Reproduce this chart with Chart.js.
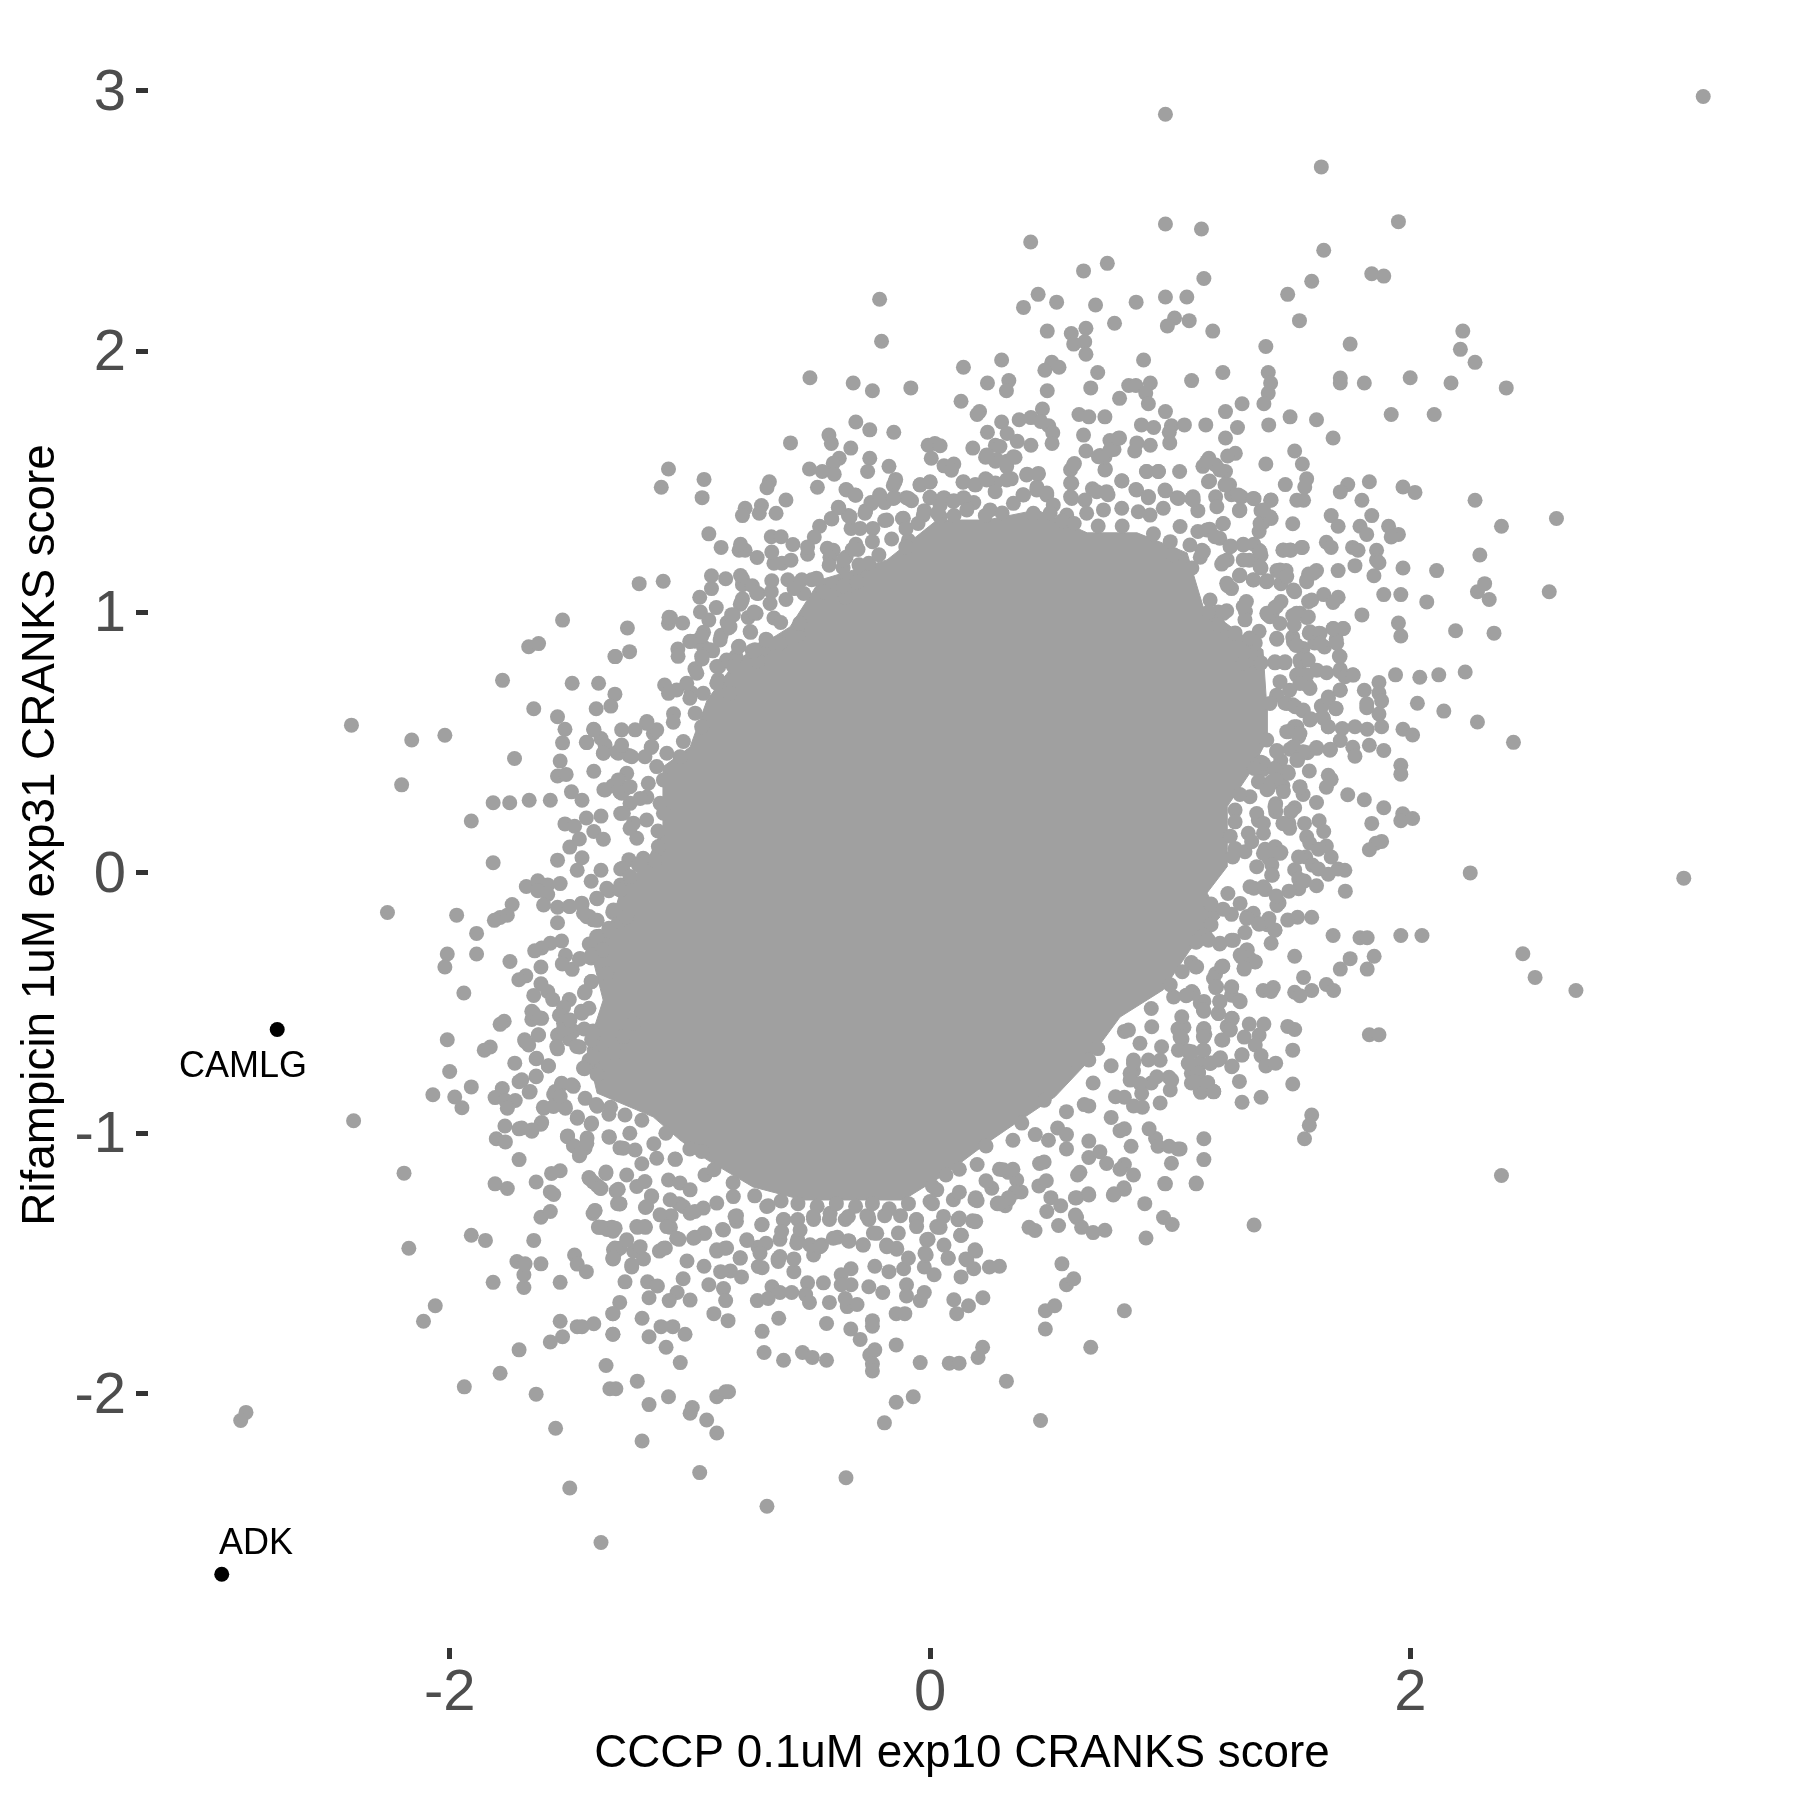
<!DOCTYPE html>
<html><head><meta charset="utf-8">
<style>html,body{margin:0;padding:0;background:#fff}canvas{display:block}</style>
<script src="https://cdn.jsdelivr.net/npm/chart.js@4/dist/chart.umd.min.js"></script>
</head><body><canvas id="c" width="1800" height="1800"></canvas>
<script>
const xTicks=[-2,0,2];
const yTicks=[-2,-1,0,1,2,3];
const xTitle="CCCP 0.1uM exp10 CRANKS score";
const yTitle="Rifampicin 1uM exp31 CRANKS score";
const labelledNames=["CAMLG","ADK"];
const labelledPoints=[[-2.718,-0.602],[-2.949,-2.692]];
const labelAnchors=[[-2.860,-0.747],[-2.806,-2.577]];
// outline of the region where the dots merge into solid grey
const denseCoreOutline=[[-1.112,0.175],[-1.112,0.406],[-0.999,0.482],[-0.928,0.663],[-0.803,0.816],[-0.583,0.943],[-0.458,1.123],[-0.179,1.2],[0.029,1.353],[0.237,1.353],[0.445,1.392],[0.654,1.304],[0.862,1.304],[1.07,1.227],[1.137,1.02],[1.386,0.855],[1.403,0.624],[1.403,0.509],[1.332,0.383],[1.236,0.252],[1.236,0.022],[1.153,-0.078],[1.207,-0.17],[1.082,-0.297],[0.97,-0.45],[0.791,-0.554],[0.642,-0.741],[0.52,-0.86],[0.375,-0.95],[0.237,-1.037],[0.071,-1.152],[-0.112,-1.256],[-0.321,-1.256],[-0.529,-1.256],[-0.737,-1.206],[-0.928,-1.102],[-1.041,-1.026],[-1.153,-0.937],[-1.386,-0.846],[-1.428,-0.68],[-1.361,-0.489],[-1.403,-0.335],[-1.332,-0.208],[-1.291,-0.078],[-1.178,0.049]];
const topPoints=[[0.98,2.91],[0.98,2.489],[1.13,2.47],[0.419,2.42],[0.738,2.338],[0.639,2.309],[1.14,2.28],[-0.21,2.2],[0.45,2.219],[0.389,2.169],[0.527,2.189],[0.689,2.178],[0.858,2.189],[0.98,2.209],[1.069,2.209],[0.768,2.108],[1.018,2.128],[0.988,2.098],[1.079,2.118],[1.177,2.078],[0.488,2.078],[0.588,2.069],[0.649,2.089],[0.598,2.028],[0.644,2.037],[0.649,1.989],[-0.202,2.039],[0.298,1.967],[0.139,1.939],[0.889,1.967],[0.507,1.958],[0.478,1.928],[0.537,1.939],[0.698,1.919],[-0.5,1.899],[-0.32,1.879],[-0.24,1.849],[-0.08,1.86],[0.239,1.879],[0.328,1.888],[0.318,1.849],[0.488,1.849],[0.669,1.86],[0.827,1.869],[0.857,1.869],[0.917,1.879],[1.089,1.888],[0.898,1.84],[0.789,1.82],[0.909,1.799],[0.129,1.809],[0.206,1.769],[0.196,1.758],[0.468,1.779],[0.98,1.769],[0.62,1.758],[0.661,1.749],[0.728,1.749],[0.298,1.729],[0.371,1.738],[0.42,1.746],[0.461,1.731],[0.494,1.715],[0.511,1.688],[0.508,1.647],[-0.309,1.729],[-0.251,1.699],[-0.151,1.69],[-0.581,1.649],[-0.421,1.679],[-0.411,1.647],[-0.33,1.629],[0.88,1.718],[0.931,1.708],[1.005,1.715],[0.996,1.69],[0.998,1.649],[1.059,1.718],[1.148,1.718],[0.239,1.69],[0.639,1.679],[0.321,1.685],[0.363,1.655],[0.42,1.64],[-0.008,1.64],[0.02,1.647],[0.042,1.638],[0.178,1.629],[0.272,1.64],[0.749,1.658],[0.789,1.668],[0.766,1.624],[0.861,1.649],[0.852,1.618],[0.917,1.64],[0.649,1.618],[0.708,1.601],[0.005,1.59],[-0.251,1.59],[-0.378,1.59],[-0.403,1.571],[-0.502,1.549],[-0.449,1.539],[-0.399,1.529],[-0.171,1.559],[-0.26,1.539],[0.058,1.561],[0.099,1.568],[0.089,1.544],[0.231,1.594],[0.272,1.579],[0.321,1.579],[0.354,1.594],[0.601,1.57],[0.585,1.546],[0.73,1.549],[1.039,1.539],[1.161,1.59],[1.136,1.559],[0.901,1.539],[0.95,1.539],[-1.089,1.549],[-0.941,1.509],[-1.119,1.479],[-0.949,1.439],[-0.669,1.5],[-0.679,1.477],[-0.143,1.509],[-0.153,1.486],[0,1.498],[-0.041,1.488],[0.137,1.498],[0.19,1.488],[0.231,1.511],[0.272,1.495],[0.338,1.511],[0.404,1.529],[0.45,1.529],[0.585,1.495],[0.799,1.503],[-0.469,1.479],[-0.35,1.47],[-0.309,1.448],[-0.6,1.43],[-0.702,1.409],[-0.711,1.379],[-0.77,1.398],[-0.781,1.37],[-0.641,1.379],[-0.21,1.45],[-0.246,1.42],[-0.189,1.42],[-0.148,1.439],[-0.098,1.439],[-0.077,1.427],[0,1.439],[0.058,1.439],[0.042,1.409],[0.14,1.439],[0.099,1.427],[0.182,1.42],[0.445,1.48],[0.486,1.457],[0.387,1.45],[0.585,1.442],[0.676,1.473],[0.741,1.45],[0.857,1.47],[0.909,1.439],[0.98,1.465],[1.029,1.439],[1.095,1.442],[-0.38,1.4],[-0.411,1.359],[-0.34,1.37],[-0.268,1.389],[-0.921,1.3],[-0.46,1.329],[-0.482,1.288],[-0.661,1.289],[-0.62,1.289],[-0.571,1.259],[-0.87,1.248],[-0.795,1.237],[-0.77,1.237],[-0.72,1.209],[-0.65,1.187],[-0.617,1.187],[-0.579,1.199],[-0.51,1.222],[-0.428,1.245],[-0.403,1.237],[-0.309,1.26],[-0.09,1.275],[-0.189,1.351],[-0.115,1.359],[-0.024,1.389],[-0.329,1.321],[-0.238,1.321],[-0.91,1.139],[-0.851,1.128],[-0.781,1.128],[-0.781,1.105],[-0.74,1.101],[-1.211,1.109],[-1.111,1.118],[-0.35,1.21],[-0.362,1.17],[-0.296,1.181],[-0.255,1.187],[-0.959,1.057],[-0.716,1.071],[-0.781,1.051],[-0.79,1.03],[-0.661,1.078],[-0.592,1.124],[-0.534,1.124],[-0.493,1.124],[-0.666,1.033],[-0.6,1.048],[-0.526,1.071],[-0.444,1.078],[-0.89,1.017],[-1.081,0.979],[-1.089,0.957],[-1.03,0.958],[-0.826,0.99],[-0.757,0.979],[-0.724,0.995],[-0.921,0.969],[-0.65,0.977],[-1.26,0.939],[-0.839,0.939],[-0.87,0.911],[-0.747,0.922],[-0.943,0.922],[-0.979,0.888],[-0.999,0.888],[-1.05,0.858],[-1.251,0.848],[-1.31,0.829],[-0.795,0.869],[-0.683,0.896],[-0.625,0.881],[-0.943,0.866],[-0.905,0.851],[-0.949,0.82],[-0.979,0.782],[-0.847,0.813],[-0.88,0.79],[-0.74,0.851],[-0.716,0.813],[-0.551,0.911],[-0.543,0.957],[-0.353,1.055],[-0.304,1.116]];
const rightUpperPoints=[[3.219,2.978],[1.629,2.708],[1.95,2.498],[1.639,2.388],[1.839,2.298],[1.889,2.289],[1.589,2.269],[1.489,2.219],[1.538,2.118],[2.218,2.078],[2.208,2.008],[2.269,1.958],[1.398,2.019],[1.749,2.028],[1.408,1.919],[1.418,1.879],[1.408,1.84],[1.39,1.799],[1.219,1.919],[1.708,1.898],[1.708,1.879],[1.808,1.879],[1.999,1.899],[2.169,1.879],[2.399,1.86],[1.299,1.799],[1.23,1.769],[1.28,1.708],[1.41,1.718],[1.499,1.749],[1.609,1.738],[1.92,1.758],[2.099,1.758],[1.678,1.668],[1.23,1.668],[1.518,1.618],[1.55,1.568],[1.398,1.568],[1.271,1.609],[1.239,1.599],[1.189,1.564],[1.23,1.539],[1.568,1.511],[1.56,1.48],[1.479,1.489],[1.739,1.489],[1.708,1.461],[1.829,1.5],[1.969,1.48],[2.019,1.459],[2.269,1.429],[1.247,1.488],[1.164,1.503],[1.189,1.442],[1.255,1.45],[1.296,1.442],[1.349,1.435],[1.418,1.429],[1.527,1.429],[1.555,1.429],[1.798,1.429],[1.09,1.435],[1.115,1.389],[1.288,1.389],[1.378,1.389],[1.42,1.359],[1.387,1.344],[1.37,1.309],[1.67,1.37],[1.699,1.329],[1.839,1.37],[1.51,1.339],[1.219,1.339],[1.79,1.329],[1.818,1.298],[1.909,1.329],[1.95,1.298],[1.92,1.288],[2.379,1.329],[2.608,1.359],[1.115,1.309],[1.164,1.318],[1.206,1.283],[1.252,1.253],[1.304,1.26],[1.37,1.237],[1.378,1.218],[1.469,1.237],[1.502,1.237],[1.55,1.248],[1.65,1.268],[1.67,1.248],[1.759,1.248],[1.782,1.237],[1.859,1.237],[1.859,1.199],[1.869,1.189],[2.289,1.219],[1.769,1.178],[1.969,1.169],[2.109,1.159],[1.699,1.159],[1.848,1.139],[1.609,1.159],[1.576,1.146],[1.568,1.116],[1.444,1.159],[1.482,1.159],[1.461,1.109],[1.329,1.199],[1.378,1.169],[1.346,1.124],[1.4,1.116],[1.214,1.184],[1.09,1.169],[1.132,1.237],[2.309,1.109],[2.279,1.078],[2.328,1.048],[2.578,1.078],[1.889,1.067],[1.96,1.067],[2.068,1.039],[1.639,1.067],[1.699,1.057],[1.678,1.037],[1.518,1.078],[1.576,1.04],[1.239,1.101],[1.288,1.139],[1.461,1.04],[1.436,1.017],[1.406,0.99],[1.317,1.04],[1.313,1.002],[1.235,1.005],[1.197,0.987],[1.51,0.987],[1.568,0.979],[1.798,0.989],[1.95,0.958],[1.96,0.908],[2.188,0.928],[2.348,0.919],[1.678,0.937],[1.719,0.937],[1.579,0.919],[1.62,0.919],[1.691,0.896],[1.642,0.866],[1.601,0.881],[1.704,0.831],[1.444,0.896],[1.51,0.904],[1.523,0.873],[1.354,0.881],[1.37,0.926],[1.568,0.82],[1.543,0.805],[1.436,0.805],[1.477,0.805],[1.378,0.805],[1.304,0.805]];
const rightLowerPoints=[[1.938,0.759],[2.039,0.75],[2.118,0.759],[2.228,0.77],[2.029,0.65],[2.139,0.62],[2.279,0.578],[2.429,0.5],[1.869,0.73],[1.869,0.689],[1.88,0.659],[1.869,0.609],[1.88,0.56],[1.808,0.7],[1.818,0.648],[1.818,0.633],[1.708,0.7],[1.76,0.759],[1.708,0.78],[1.658,0.674],[1.629,0.639],[1.69,0.629],[1.969,0.55],[2.009,0.528],[1.769,0.56],[1.82,0.55],[1.716,0.553],[1.708,0.507],[1.658,0.56],[1.634,0.598],[1.584,0.591],[1.551,0.621],[1.51,0.644],[1.477,0.651],[1.485,0.541],[1.535,0.522],[1.527,0.56],[1.609,0.48],[1.667,0.474],[1.76,0.481],[1.769,0.447],[1.829,0.489],[1.889,0.469],[1.551,0.462],[1.53,0.431],[1.499,0.474],[1.444,0.469],[1.96,0.412],[1.96,0.378],[1.579,0.39],[1.658,0.374],[1.67,0.358],[1.65,0.328],[1.54,0.328],[1.489,0.386],[1.436,0.401],[1.378,0.424],[1.387,0.396],[1.42,0.348],[1.469,0.333],[1.37,0.348],[1.403,0.318],[1.739,0.299],[1.808,0.28],[1.889,0.249],[1.609,0.269],[1.518,0.249],[1.502,0.234],[1.439,0.264],[1.439,0.234],[1.968,0.226],[1.96,0.199],[2.009,0.208],[1.839,0.189],[1.62,0.199],[1.639,0.158],[1.559,0.189],[1.469,0.189],[1.494,0.189],[1.88,0.12],[1.856,0.113],[1.829,0.088],[1.568,0.138],[1.581,0.113],[1.65,0.102],[1.617,0.09],[1.439,0.097],[1.461,0.078],[1.395,0.09],[1.411,0.055],[1.67,0.06],[1.564,0.06],[1.592,0.029],[1.617,0.014],[1.658,-0.006],[1.699,0.014],[1.727,0.009],[1.518,0.011],[1.535,-0.024],[1.559,-0.032],[1.425,-0.01],[1.609,-0.05],[1.729,-0.071],[2.249,-0.001],[3.138,-0.021],[1.535,-0.062],[1.494,-0.071],[1.395,-0.065],[1.453,-0.116],[1.444,-0.126],[1.589,-0.171],[1.53,-0.171],[1.489,-0.182],[1.411,-0.176],[1.436,-0.221],[1.37,-0.198],[1.321,-0.168],[1.255,-0.16],[1.678,-0.241],[1.79,-0.25],[1.82,-0.25],[1.96,-0.241],[2.048,-0.241],[1.42,-0.271],[1.255,-0.259],[1.206,-0.274],[1.148,-0.244],[1.107,-0.267],[1.518,-0.321],[2.468,-0.311],[2.519,-0.402],[2.689,-0.452],[1.849,-0.321],[1.749,-0.33],[1.708,-0.37],[1.82,-0.37],[1.321,-0.297],[1.296,-0.323],[1.354,-0.343],[1.308,-0.37],[1.219,-0.358],[1.189,-0.388],[1.107,-0.362],[1.555,-0.402],[1.65,-0.429],[1.68,-0.452],[1.589,-0.452],[1.518,-0.459],[1.54,-0.472],[1.429,-0.441],[1.387,-0.452],[1.42,-0.456],[1.255,-0.441],[1.288,-0.491],[1.206,-0.494],[1.189,-0.441],[1.14,-0.494],[1.14,-0.532],[1.201,-0.54],[1.066,-0.472],[1.09,-0.456],[1.258,-0.56],[1.329,-0.581],[1.39,-0.581],[1.489,-0.59],[1.518,-0.602],[1.829,-0.622],[1.869,-0.622],[1.14,-0.598],[1.14,-0.626],[1.25,-0.602],[1.308,-0.631],[1.37,-0.623],[1.219,-0.642],[1.057,-0.593],[1.049,-0.638],[1.354,-0.661],[1.51,-0.681],[1.14,-0.681],[1.074,-0.684],[1.299,-0.699],[1.378,-0.702],[1.209,-0.71],[1.169,-0.73],[1.258,-0.742],[1.077,-0.73],[1.398,-0.742],[1.439,-0.731],[1.118,-0.767],[1.099,-0.798],[1.156,-0.805],[1.128,-0.843],[1.181,-0.84],[1.288,-0.801],[1.51,-0.811],[1.378,-0.862],[1.299,-0.881],[1.589,-0.93],[1.579,-0.969],[1.559,-1.021],[1.14,-1.021],[1.14,-1.101],[1.108,-1.191],[1.041,-1.06],[2.379,-1.162],[1.349,-1.352]];
const bottomPoints=[[0.46,-2.102],[0.809,-1.681],[0.669,-1.821],[0.318,-1.951],[-0.35,-2.322],[-0.679,-2.431],[-0.959,-2.302],[-1.199,-2.181],[-0.888,-2.15],[-0.93,-2.1],[-0.99,-2.052],[-0.999,-2.074],[-1.17,-2.041],[-1.089,-2.011],[-0.888,-2.011],[-0.851,-1.992],[-0.839,-1.992],[-1.219,-1.951],[-1.333,-1.98],[-1.308,-1.98],[-1.349,-1.891],[-0.19,-2.111],[-0.141,-2.032],[-0.07,-2.011],[-1.04,-1.88],[-1.099,-1.821],[-1.17,-1.781],[-1.32,-1.771],[-1.12,-1.742],[-1.071,-1.742],[-1.02,-1.771],[-1.199,-1.71],[-1.32,-1.692],[-1.292,-1.649],[-0.9,-1.692],[-0.841,-1.719],[-0.63,-1.71],[-0.699,-1.76],[-0.691,-1.841],[-0.61,-1.871],[-0.531,-1.841],[-0.49,-1.86],[-0.431,-1.871],[-0.431,-1.73],[-0.33,-1.751],[-0.291,-1.791],[-0.24,-1.719],[-0.24,-1.74],[-0.23,-1.831],[-0.251,-1.851],[-0.24,-1.885],[-0.24,-1.912],[-0.141,-1.812],[-0.041,-1.88],[0.08,-1.882],[0.121,-1.882],[0.219,-1.821],[0.2,-1.86],[-0.141,-1.692],[-0.105,-1.692],[-0.041,-1.642],[-0.024,-1.611],[0.099,-1.639],[0.111,-1.692],[0.16,-1.662],[0.22,-1.631],[0.48,-1.681],[0.519,-1.662],[0.48,-1.751],[0.549,-1.501],[0.568,-1.581],[0.598,-1.558],[0.247,-1.513],[0.289,-1.51],[0.182,-1.52],[0.129,-1.551],[0.075,-1.479],[0.149,-1.482],[0.19,-1.452],[-0.098,-1.581],[-0.098,-1.624],[-0.197,-1.611],[-0.255,-1.589],[-0.329,-1.52],[-0.37,-1.543],[-0.23,-1.51],[-0.171,-1.531],[-0.11,-1.52],[-0.09,-1.479],[0.017,-1.543],[-0.024,-1.513],[-0.016,-1.467],[-0.51,-1.574],[-0.444,-1.574],[-0.329,-1.581],[-0.37,-1.581],[-0.658,-1.589],[-0.625,-1.611],[-0.576,-1.611],[-0.518,-1.619],[-0.719,-1.642],[-0.674,-1.634],[-0.502,-1.649],[-0.419,-1.649],[-0.345,-1.665],[-0.304,-1.657],[-0.353,-1.634],[-0.633,-1.482],[-0.567,-1.531],[-0.699,-1.516],[-0.785,-1.551],[-0.831,-1.528],[-0.872,-1.531],[-0.79,-1.478],[-0.716,-1.437],[-1.012,-1.49],[-0.941,-1.51],[-0.921,-1.581],[-0.86,-1.596],[-0.851,-1.642],[-0.999,-1.64],[-1.053,-1.611],[-1.086,-1.642],[-1.028,-1.558],[-1.17,-1.631],[-1.176,-1.57],[-1.135,-1.586],[-1.27,-1.57],[-1.32,-1.482],[-1.234,-1.452],[-1.193,-1.482],[-1.242,-1.513],[-1.127,-1.452],[-1.102,-1.44],[-1.218,-1.361],[-1.185,-1.361],[-1.325,-1.361],[-1.366,-1.361],[-1.308,-1.452],[-0.979,-1.399],[-0.938,-1.384],[-0.888,-1.452],[-0.847,-1.44],[-0.864,-1.369],[-0.806,-1.338],[-0.699,-1.35],[-0.762,-1.411],[-1.081,-1.361],[-1.045,-1.407],[-0.683,-1.422],[-0.625,-1.407],[-0.609,-1.331],[-0.551,-1.407],[-0.567,-1.482],[-0.485,-1.467],[-0.452,-1.429],[-0.386,-1.399],[-0.337,-1.414],[-0.279,-1.429],[-0.222,-1.384],[-0.181,-1.429],[-0.139,-1.445],[-0.008,-1.407],[0.058,-1.429],[0.042,-1.361],[0.116,-1.331],[0.127,-1.391],[0.19,-1.338],[0.19,-1.247],[0.28,-1.27],[0.313,-1.278],[0.379,-1.225],[0.33,-1.247],[0.412,-1.361],[0.437,-1.373],[0.486,-1.3],[0.535,-1.354],[0.61,-1.323],[0.631,-1.361],[0.679,-1.381],[0.728,-1.372],[0.61,-1.247],[0.659,-1.232],[0.766,-1.232],[0.807,-1.209],[0.894,-1.27],[0.972,-1.323],[1.008,-1.35],[0.899,-1.402],[0.98,-1.194],[1.108,-1.194],[0.503,-1.247],[0.544,-1.278],[0.453,-1.202],[-1.292,-1.27],[-1.16,-1.24],[-1.185,-1.285],[-1.045,-1.27],[-1.078,-1.316],[-0.979,-1.3],[-0.806,-1.316],[-0.674,-1.278],[-0.263,-1.316],[-0.057,-1.331],[0.033,-1.361],[-0.551,-1.331],[-0.485,-1.331],[-0.419,-1.331],[-0.353,-1.331],[-0.255,-1.331],[-0.189,-1.316],[-0.123,-1.316]];
const lowerLeftPoints=[[-2.848,-2.071],[-2.87,-2.102],[-1.37,-2.57],[-1.5,-2.361],[-1.559,-2.132],[-1.939,-1.973],[-1.79,-1.921],[-1.64,-2.001],[-1.711,-1.831],[-2.06,-1.662],[-2.109,-1.721],[-1.54,-1.721],[-1.581,-1.801],[-1.53,-1.781],[-1.469,-1.742],[-1.449,-1.742],[-1.4,-1.731],[-1.321,-1.771],[-1.321,-1.692],[-1.819,-1.572],[-1.691,-1.592],[-1.691,-1.543],[-1.54,-1.572],[-1.72,-1.492],[-1.686,-1.501],[-1.62,-1.501],[-1.48,-1.467],[-1.469,-1.502],[-1.431,-1.531],[-1.321,-1.479],[-1.312,-1.44],[-2.17,-1.441],[-1.91,-1.391],[-1.851,-1.411],[-1.65,-1.411],[-1.378,-1.361],[-1.345,-1.369],[-1.32,-1.376],[-1.62,-1.322],[-1.581,-1.3],[-1.395,-1.297],[-1.403,-1.308],[-1.581,-1.225],[-1.567,-1.235],[-1.76,-1.212],[-1.811,-1.194],[-1.64,-1.187],[-1.37,-1.212],[-1.403,-1.187],[-1.301,-1.27],[-1.307,-1.221]];
const leftPoints=[[-2.409,0.566],[-2.158,0.509],[-2.02,0.527],[-2.2,0.337],[-2.259,-0.153],[-2.4,-0.952],[-2.19,-1.153],[-1.53,0.969],[-1.671,0.867],[-1.63,0.879],[-1.312,0.829],[-1.78,0.738],[-1.49,0.727],[-1.38,0.727],[-1.312,0.685],[-1.65,0.629],[-1.551,0.598],[-1.39,0.629],[-1.329,0.639],[-1.52,0.55],[-1.401,0.55],[-1.37,0.515],[-1.431,0.5],[-1.53,0.498],[-1.36,0.459],[-1.304,0.462],[-1.73,0.438],[-1.54,0.428],[-1.4,0.389],[-1.551,0.371],[-1.515,0.377],[-1.493,0.31],[-1.449,0.278],[-1.819,0.268],[-1.75,0.268],[-1.669,0.278],[-1.581,0.278],[-1.358,0.318],[-1.321,0.333],[-1.291,0.31],[-1.91,0.198],[-1.431,0.21],[-1.37,0.217],[-1.288,0.227],[-1.52,0.187],[-1.48,0.178],[-1.4,0.158],[-1.36,0.128],[-1.46,0.129],[-1.5,0.098],[-1.551,0.048],[-1.449,0.057],[-1.819,0.038],[-1.469,0.009],[-1.37,0.009],[-1.411,-0.033],[-1.288,0.014],[-1.54,-0.042],[-1.681,-0.053],[-1.633,-0.031],[-1.592,-0.047],[-1.633,-0.069],[-1.592,-0.084],[-1.609,-0.124],[-1.74,-0.122],[-1.76,-0.163],[-1.79,-0.172],[-1.814,-0.183],[-1.971,-0.163],[-1.551,-0.133],[-1.502,-0.13],[-1.449,-0.122],[-1.419,-0.168],[-1.386,-0.183],[-1.551,-0.192],[-1.386,-0.1],[-1.337,-0.069],[-1.288,-0.047],[-1.321,-0.153],[-1.296,-0.191],[-1.337,-0.213],[-1.378,-0.244],[-1.888,-0.233],[-1.888,-0.312],[-2.01,-0.312],[-2.02,-0.362],[-1.534,-0.262],[-1.581,-0.271],[-1.617,-0.289],[-1.646,-0.3],[-1.749,-0.341],[-1.62,-0.362],[-1.518,-0.317],[-1.531,-0.35],[-1.49,-0.371],[-1.46,-0.332],[-1.411,-0.327],[-1.419,-0.274],[-1.378,-0.289],[-1.683,-0.396],[-1.712,-0.411],[-1.941,-0.462],[-1.62,-0.426],[-1.65,-0.471],[-1.592,-0.456],[-1.571,-0.487],[-1.411,-0.418],[-1.439,-0.462],[-1.502,-0.487],[-1.526,-0.517],[-1.543,-0.547],[-1.452,-0.532],[-1.658,-0.532],[-1.617,-0.559],[-1.658,-0.563],[-1.773,-0.57],[-1.79,-0.582],[-2.01,-0.641],[-1.63,-0.623],[-1.688,-0.641],[-1.671,-0.661],[-1.526,-0.578],[-1.485,-0.608],[-1.551,-0.623],[-1.502,-0.638],[-1.403,-0.608],[-1.831,-0.669],[-1.856,-0.681],[-1.551,-0.676],[-1.46,-0.669],[-1.64,-0.714],[-1.589,-0.742],[-1.729,-0.731],[-2,-0.763],[-1.403,-0.714],[-1.439,-0.752],[-1.386,-0.775],[-1.64,-0.783],[-1.711,-0.802],[-1.669,-0.842],[-1.91,-0.822],[-1.979,-0.861],[-2.07,-0.852],[-1.949,-0.902],[-1.781,-0.828],[-1.811,-0.863],[-1.768,-0.874],[-1.727,-0.874],[-1.76,-0.904],[-1.534,-0.813],[-1.485,-0.82],[-1.567,-0.851],[-1.518,-0.904],[-1.608,-0.904],[-1.559,-0.889],[-1.436,-0.866],[-1.386,-0.896],[-1.337,-0.927],[-1.77,-0.972],[-1.711,-0.983],[-1.658,-0.992],[-1.62,-0.965],[-1.469,-0.942],[-1.411,-0.965],[-1.51,-1.013],[-1.428,-1.018],[-1.485,-1.048],[-1.436,-1.056],[-1.46,-1.086],[-1.337,-1.013],[-1.291,-1.056],[-1.806,-1.021],[-1.768,-1.033],[-1.711,-1.101],[-1.54,-1.144],[-1.576,-1.154],[-1.419,-1.173],[-1.35,-1.154],[-1.386,-1.2]];
// dots in the crowded band around the solid core
const bandPoints=[[-0.789,1.26],[-0.659,1.23],[-0.51,1.25],[-0.417,1.21],[-0.324,1.24],[-0.213,1.22],[-0.101,1.25],[-0.91,1.09],[-0.789,1.14],[-0.659,1.12],[-0.566,1.09],[-0.473,1.13],[-0.362,1.1],[1.014,1.22],[1.125,1.21],[1.237,1.2],[1.348,1.26],[1.255,1.09],[1.404,1.12],[-1.087,0.98],[-0.956,1],[-0.845,0.96],[-0.733,1],[-0.622,0.96],[1.2,1],[1.311,0.97],[1.423,0.99],[1.516,0.95],[-1.049,0.83],[-0.808,0.83],[-0.696,0.86],[1.553,0.86],[-1.105,0.72],[-0.994,0.69],[-0.882,0.74],[1.497,0.7],[1.571,0.72],[-1.179,0.58],[-1.068,0.61],[1.516,0.56],[-1.254,0.45],[-1.161,0.48],[1.46,0.43],[1.571,0.46],[-1.272,0.32],[-1.179,0.29],[1.46,0.34],[1.553,0.3],[-1.235,0.19],[-1.133,0.16],[1.367,0.2],[1.497,0.17],[-1.254,0.05],[1.311,0.08],[1.423,0.03],[1.534,0.06],[1.348,-0.06],[1.441,-0.09],[1.311,-0.23],[1.404,-0.2],[1.218,-0.36],[1.33,-0.33],[1.125,-0.5],[1.255,-0.47],[1.032,-0.6],[1.144,-0.62],[1.237,-0.59],[0.847,-0.76],[0.958,-0.72],[1.088,-0.77],[0.642,-0.89],[0.772,-0.86],[0.884,-0.9],[0.531,-0.98],[0.661,-1.03],[0.791,-0.99],[0.939,-1.02],[0.475,-1.11],[0.624,-1.15],[0.809,-1.12],[0.196,-1.12],[0.326,-1.15],[0.066,-1.16]];
const leftBandPoints=[[-0.951,0.906],[-1,0.887],[-0.916,0.855],[-0.951,0.829],[-0.874,0.893],[-0.833,0.944],[-0.819,0.989],[-0.784,1.04],[-0.722,1.072],[-0.749,0.925],[-0.798,0.867],[-0.68,0.893],[-0.631,0.88],[-0.729,0.855],[-0.847,0.816],[-0.888,0.791],[-0.971,0.765],[-0.888,0.727],[-0.819,0.791],[-0.833,0.688],[-0.944,0.688],[-1,0.669],[-0.978,0.612],[-1.013,0.727],[-1.055,0.701],[-1.089,0.688],[-1.069,0.577],[-0.951,0.56],[-1.152,0.535],[-1.138,0.548],[-1.18,0.573],[-1.228,0.548],[-1.284,0.548],[-1.399,0.548],[-1.429,0.499],[-1.353,0.49],[-1.36,0.458],[-1.298,0.458],[-1.242,0.445],[-1.187,0.445],[-1.284,0.49],[-1.159,0.484],[-1.138,0.407],[-1.041,0.445],[-1.027,0.503],[-1.096,0.458],[-1.11,0.356],[-1.173,0.343],[-1.207,0.285],[-1.249,0.266],[-1.277,0.228],[-1.263,0.381],[-1.298,0.356],[-1.353,0.317],[-1.284,0.305],[-1.249,0.33],[-1.124,0.266],[-1.18,0.202],[-1.11,0.228],[-1.249,0.17],[-1.221,0.132],[-1.131,0.1],[-1.194,0.055],[-1.214,0.03],[-1.145,0.049],[-1.28,0.017],[-1.249,-0.015],[-1.346,-0.06],[-1.388,-0.098],[-1.291,-0.066],[-1.318,-0.143],[-1.263,-0.169],[-1.402,-0.181],[-1.429,-0.169],[-1.388,-0.245],[-1.332,-0.226],[-1.409,-0.316],[-1.457,-0.329],[-1.36,-0.297],[-1.409,-0.418],[-1.436,-0.456],[-1.346,-0.386],[-1.499,-0.13],[-1.45,-0.117],[-1.443,-0.156],[-1.44,-0.6],[-1.42,-0.52],[-1.42,-0.72]];
const lowerBandPoints=[[-1.651,-0.539],[-1.624,-0.558],[-1.631,-0.622],[-1.686,-0.648],[-1.554,-0.667],[-1.471,-0.667],[-1.409,-0.641],[-1.527,-0.603],[-1.499,-0.565],[-1.45,-0.539],[-1.402,-0.616],[-1.318,-0.693],[-1.277,-0.629],[-1.235,-0.578],[-1.638,-0.712],[-1.589,-0.741],[-1.64,-0.78],[-1.443,-0.75],[-1.402,-0.705],[-1.534,-0.808],[-1.492,-0.814],[-1.561,-0.84],[-1.665,-0.84],[-1.7,-0.795],[-1.61,-0.9],[-1.568,-0.897],[-1.52,-0.897],[-1.54,-0.859],[-1.617,-0.959],[-1.658,-0.987],[-1.7,-0.98],[-1.468,-0.938],[-1.409,-0.961],[-1.509,-1.01],[-1.478,-1.051],[-1.457,-1.079],[-1.429,-1.038],[-1.335,-1.015],[-1.277,-1.057],[-1.228,-1.064],[-1.138,-1.096],[-1.062,-1.099],[-1.2,-1.117],[-0.951,-1.07],[-0.937,-1.16],[-1.263,-1.16],[-1.221,-1.204],[-1.187,-1.185],[-1.349,-1.149],[-1.42,-1.17],[-1.374,-1.211],[-1.298,-1.215],[-1.291,-1.271],[-1.159,-1.243],[-1.089,-1.179],[-1.041,-1.191],[-0.999,-1.217],[-1.18,-1.281],[-1.124,-1.313],[-1.096,-1.358],[-1.055,-1.403],[-1.082,-1.255],[-1.027,-1.281],[-0.999,-1.307],[-0.944,-1.287],[-0.888,-1.268],[-0.819,-1.243],[-0.812,-1.319],[-0.86,-1.371],[-0.701,-1.351],[-0.68,-1.281],[-0.941,-1.383],[-0.985,-1.403],[-0.888,-1.447],[-0.854,-1.441],[-0.763,-1.409],[-0.611,-1.332],[-0.618,-1.377],[-0.541,-1.371],[-0.486,-1.319],[-0.416,-1.307],[-0.34,-1.319],[-0.555,-1.422],[-0.5,-1.428],[-0.458,-1.435],[-0.403,-1.403],[-0.34,-1.412],[-0.257,-1.319],[-0.236,-1.383],[-0.278,-1.428],[-0.18,-1.435],[-0.139,-1.441],[-0.132,-1.383],[-0.056,-1.332],[-0.056,-1.358],[0.028,-1.358],[0.056,-1.319],[0.097,-1.255],[0,-1.262],[0.028,-1.217],[0.187,-1.255],[0.187,-1.339],[0.118,-1.332],[0.128,-1.391],[-0.014,-1.409],[-0.021,-1.46],[0.076,-1.479],[0.187,-1.447],[0.153,-1.486],[0.257,-1.211],[0.326,-1.255],[0.284,-1.268],[0.305,-1.14],[0.361,-1.179],[-0.625,-1.473],[-0.632,-1.492],[-0.715,-1.511],[-0.708,-1.46],[-0.791,-1.479],[-1.318,-1.447],[-1.291,-1.441],[-1.263,-1.409],[-1.221,-1.358],[-1.187,-1.358],[-1.207,-1.435],[-1.242,-1.505],[-1.318,-1.479],[-1.11,-1.441],[-1.381,-1.36],[-1.339,-1.364],[-1.311,-1.364],[-1.395,-1.296],[-0.62,-1.26],[-0.55,-1.27],[-0.47,-1.28],[-0.39,-1.27],[-0.31,-1.28],[-0.24,-1.27],[-0.17,-1.29],[-0.09,-1.27],[-0.73,-1.24],[-0.82,-1.19],[-0.9,-1.14],[-1.2,-0.95],[-1.27,-0.93],[-1.33,-0.9],[-1.39,-0.89],[-1.1,-1],[-1,-1.06],[-1.25,-1],[-1.15,-1.04],[-1.06,-1.1]];
const lowerRightBandPoints=[[0.661,-0.719],[0.754,-0.741],[0.847,-0.719],[0.921,-0.807],[0.995,-0.785],[0.958,-0.884],[0.847,-0.895],[0.809,-0.862],[1.088,-0.807],[1.125,-0.84],[1.181,-0.84],[1.125,-0.73],[1.2,-0.719],[0.568,-0.917],[0.661,-0.895],[0.754,-0.939],[0.809,-0.983],[0.912,-0.983],[0.949,-1.05],[0.995,-1.05],[1.032,-1.06],[0.837,-1.05],[0.735,-1.116],[0.661,-1.093],[0.568,-1.06],[0.493,-1.027],[0.438,-1.005],[0.345,-1.027],[0.289,-1.138],[0.354,-1.226],[0.484,-1.182],[0.614,-1.16],[0.707,-1.071],[0.791,-1.138],[0.847,-1.16],[1.005,-1.115],[0.977,-1.193],[0.809,-1.215],[0.763,-1.237],[0.661,-1.237],[0.605,-1.248],[0.605,-1.314],[0.326,-1.248],[0.289,-1.27],[0.196,-1.259],[0.177,-1.336],[0.122,-1.325],[0.131,-1.391],[0.568,-0.763],[0.475,-0.873],[0.382,-0.961],[0.233,-1.049],[0.122,-1.138],[0.01,-1.203],[0.698,-0.675],[0.809,-0.609],[0.921,-0.521],[1.014,-0.477],[1.088,-0.345],[0.679,-0.807],[0.568,-1.005],[0.456,-1.116],[0.345,-1.138],[0.233,-1.182],[0.122,-1.226],[0.01,-1.27],[1.05,-0.38],[1,-0.43],[1.17,-0.2],[1.14,-0.24],[1.17,-0.12],[1.24,-0.08],[1.22,-0.14]];
const upperBandPoints=[[-0.347,1.468],[-0.312,1.449],[-0.382,1.402],[-0.409,1.357],[-0.333,1.366],[-0.291,1.321],[-0.243,1.417],[-0.208,1.443],[-0.153,1.436],[-0.09,1.436],[-0.271,1.379],[-0.18,1.353],[-0.111,1.36],[0,1.44],[0.055,1.436],[0.139,1.436],[0.097,1.424],[-0.028,1.372],[0.042,1.366],[0.153,1.392],[-0.042,1.488],[0,1.5],[0.139,1.5],[0.187,1.488],[-0.146,1.5],[0.236,1.507],[0.278,1.584],[0.319,1.558],[0.347,1.596],[0.291,1.635],[0.236,1.603],[0.271,1.462],[0.319,1.507],[0.347,1.417],[0.402,1.526],[0.451,1.532],[0.444,1.468],[0.486,1.449],[0.25,1.392],[0.389,1.449],[0.43,1.379],[0.513,1.411],[0.569,1.372],[0.59,1.494],[0.59,1.436],[0.597,1.564],[0.645,1.43],[0.694,1.462],[0.735,1.462],[0.798,1.504],[0.728,1.545],[0.728,1.596],[0.701,1.596],[0.749,1.622],[0.784,1.667],[0.652,1.379],[0.722,1.392],[0.798,1.398],[0.86,1.468],[0.902,1.539],[0.951,1.539],[0.909,1.443],[0.867,1.385],[0.916,1.372],[0.971,1.398],[0.978,1.468],[1.034,1.436],[1.096,1.43],[1.041,1.328],[1.152,1.315],[1.221,1.34],[1.186,1.289],[1.082,1.257],[1.138,1.232],[1.194,1.404],[1.152,1.577],[1.207,1.545],[1.159,1.5],[1.228,1.488],[1.284,1.449],[1.346,1.436],[1.29,1.392],[1.374,1.34],[1.415,1.366],[1.42,1.43],[1.388,1.392],[1.304,1.257],[1.249,1.251],[1.374,1.232],[1.471,1.238],[1.499,1.238],[1.547,1.248],[1.221,1.193],[1.304,1.2],[1.374,1.174],[1.346,1.123],[1.402,1.117],[1.457,1.161],[1.485,1.136],[1.513,1.085],[1.235,1.11],[1.29,1.142],[1.166,1.046],[1.304,1.021],[1.221,0.995],[1.443,1.021],[1.568,1.123],[1.596,1.149],[1.54,0.995],[1.415,0.982],[1.589,1.046],[-0.42,1.18],[-0.36,1.2],[-0.3,1.24],[-0.24,1.27],[-0.16,1.28],[-0.1,1.32],[-0.05,1.34],[0.03,1.38],[0.1,1.37],[0.23,1.37],[0.3,1.38],[0.5,1.38],[0.55,1.35],[0.6,1.34],[0.7,1.33],[0.8,1.33],[0.93,1.3],[1,1.27],[1.16,1],[1.2,0.95],[1.27,0.92],[1.33,0.9]];
const rightBandPoints=[[1.402,0.995],[1.457,0.956],[1.526,0.995],[1.575,0.982],[1.443,0.899],[1.513,0.886],[1.526,0.873],[1.582,0.924],[1.624,0.918],[1.624,0.88],[1.679,0.937],[1.721,0.937],[1.693,0.88],[1.707,0.829],[1.54,0.816],[1.575,0.816],[1.436,0.809],[1.478,0.809],[1.526,0.758],[1.568,0.758],[1.61,0.777],[1.651,0.767],[1.54,0.726],[1.582,0.707],[1.707,0.771],[1.728,0.752],[1.762,0.758],[1.707,0.701],[1.457,0.733],[1.443,0.681],[1.415,0.649],[1.485,0.649],[1.52,0.637],[1.554,0.624],[1.631,0.639],[1.658,0.669],[1.69,0.63],[1.582,0.586],[1.638,0.592],[1.658,0.56],[1.54,0.534],[1.492,0.541],[1.513,0.483],[1.554,0.464],[1.61,0.477],[1.665,0.47],[1.402,0.509],[1.443,0.464],[1.388,0.419],[1.436,0.394],[1.492,0.381],[1.527,0.432],[1.367,0.349],[1.443,0.355],[1.54,0.33],[1.471,0.311],[1.408,0.323],[1.332,0.291],[1.27,0.24],[1.36,0.227],[1.436,0.253],[1.471,0.189],[1.388,0.189],[1.27,0.195],[1.325,0.151],[1.388,0.151],[1.339,0.119],[1.27,0.093],[1.388,0.074],[1.436,0.099],[1.457,0.074],[1.36,0.023],[1.422,-0.009],[1.388,-0.054],[1.332,-0.054],[1.291,-0.118],[1.346,-0.156],[1.408,-0.188],[1.436,-0.22],[1.367,-0.195],[1.318,-0.176],[1.263,-0.259],[1.207,-0.271],[1.159,-0.259],[1.11,-0.265],[1.318,-0.297],[1.353,-0.342],[1.307,-0.367],[1.291,-0.316],[1.11,-0.361],[1.214,-0.361],[1.18,-0.406],[1.193,-0.438],[1.256,-0.438],[1.096,-0.463],[1.068,-0.47],[1.291,-0.495],[1.138,-0.527],[1.2,-0.54],[1.207,-0.495],[1.256,-0.559],[1.048,-0.553],[0.923,-0.591],[0.826,-0.604],[1.041,-0.63],[1.138,-0.604],[1.138,-0.63],[1.249,-0.604],[1.214,-0.642],[0.964,-0.668],[0.874,-0.655],[1.034,-0.681],[1.089,-0.687],[1.138,-0.681],[0.909,-0.719],[0.847,-0.732],[0.833,-0.77],[0.944,-0.783],[1.075,-0.732],[1.166,-0.732],[1.207,-0.713],[1.256,-0.745],[1.298,-0.7],[1.117,-0.77],[1.103,-0.802],[1.152,-0.809],[1.18,-0.841],[1.006,-0.796],[1,-0.834],[0.874,-0.809],[0.881,-0.847],[0.833,-0.796],[1.29,0.3],[1.35,0.4],[1.26,0.06],[1.25,0.14]];
const greyPoints=[...topPoints,...rightUpperPoints,...rightLowerPoints,...bottomPoints,...lowerLeftPoints,...leftPoints,...bandPoints,...leftBandPoints,...lowerBandPoints,...lowerRightBandPoints,...upperBandPoints,...rightBandPoints];
const toXY=p=>({x:p[0],y:p[1]});
const GREY="#A0A0A0";
const labelPlugin={id:"geneLabels",afterDatasetsDraw(ch){
  const c=ch.ctx;c.save();c.fillStyle="#000";c.font="36px 'Liberation Sans'";c.textAlign="center";c.textBaseline="middle";
  labelledNames.forEach((n,i)=>c.fillText(n,ch.scales.x.getPixelForValue(labelAnchors[i][0]),ch.scales.y.getPixelForValue(labelAnchors[i][1])));
  c.restore();}};
new Chart(document.getElementById("c"),{
  type:"scatter",
  data:{datasets:[
    {label:"Dense core",data:denseCoreOutline.map(toXY),showLine:true,fill:"shape",backgroundColor:GREY,borderColor:GREY,borderWidth:1,pointRadius:0,tension:0,order:3},
    {label:"Genes",data:greyPoints.map(toXY),backgroundColor:GREY,borderWidth:0,pointRadius:7.5,order:2},
    {label:"Labelled",data:labelledPoints.map(toXY),backgroundColor:"#000",borderWidth:0,pointRadius:7.5,order:1}
  ]},
  plugins:[labelPlugin],
  options:{responsive:false,animation:false,events:[],
    layout:{padding:{top:22,right:24,left:0,bottom:0}},
    plugins:{legend:{display:false},tooltip:{enabled:false}},
    scales:{
      x:{type:"linear",min:-3.256,max:3.522,
        afterBuildTicks(s){s.ticks=xTicks.map(v=>({value:v}));},
        afterFit(s){s.height=152;s.paddingLeft=0;s.paddingRight=0;},
        grid:{drawOnChartArea:false,drawTicks:true,tickLength:11,tickColor:"#333333",tickWidth:5},
        border:{display:false},
        ticks:{autoSkip:false,maxRotation:0,color:"#4D4D4D",font:{family:"'Liberation Sans'",size:58},padding:0,callback:v=>String(v)},
        title:{display:true,text:xTitle,color:"#000",font:{family:"'Liberation Sans'",size:45.8},padding:{top:0,bottom:18}}},
      y:{type:"linear",min:-2.975,max:3.264,
        afterBuildTicks(s){s.ticks=yTicks.map(v=>({value:v}));},
        afterFit(s){s.width=148;s.paddingTop=0;s.paddingBottom=0;},
        grid:{drawOnChartArea:false,drawTicks:true,tickLength:12,tickColor:"#333333",tickWidth:5},
        border:{display:false},
        ticks:{autoSkip:false,color:"#4D4D4D",font:{family:"'Liberation Sans'",size:58},padding:10,labelOffset:3,callback:v=>String(v)},
        title:{display:true,text:yTitle,color:"#000",font:{family:"'Liberation Sans'",size:45.8},padding:{top:14,bottom:0}}}
    }
  }
});
</script></body></html>
